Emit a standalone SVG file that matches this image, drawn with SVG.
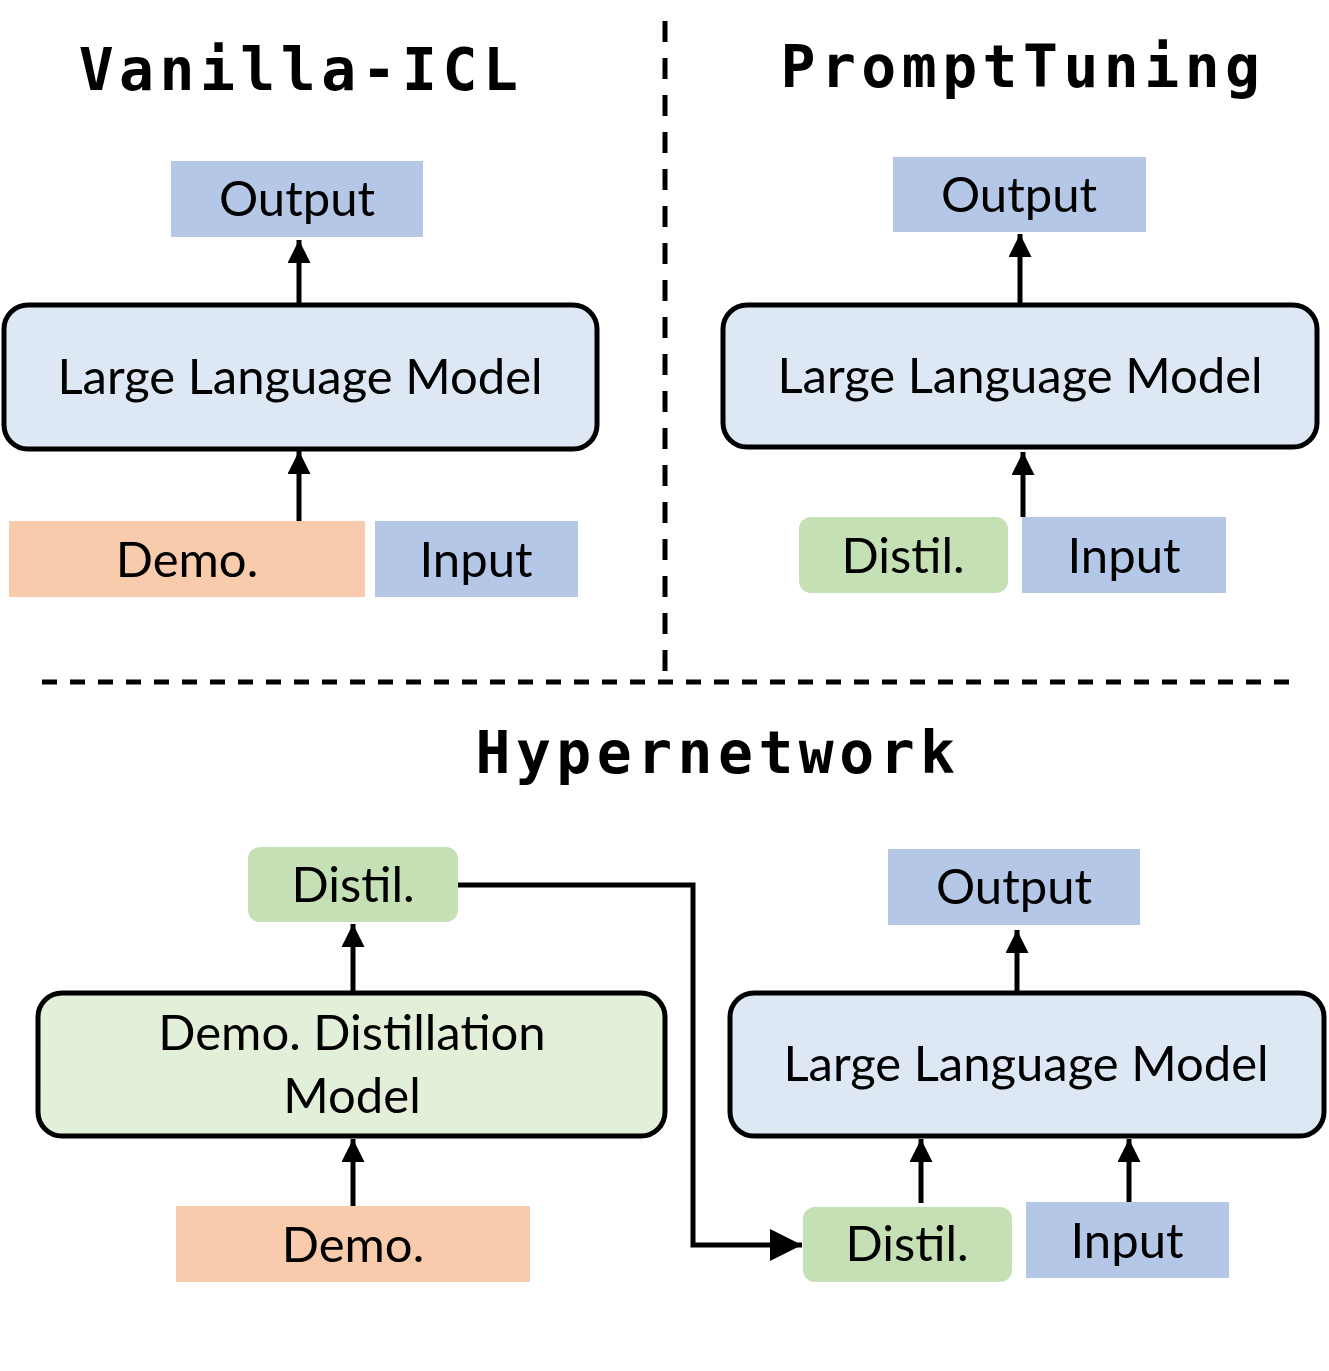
<svg xmlns="http://www.w3.org/2000/svg" width="1329" height="1371" viewBox="0 0 1329 1371">
<style>
.title{font-family:"DejaVu Sans Mono",monospace;font-weight:bold;font-size:58px;letter-spacing:5.5px;text-anchor:middle;fill:#000}
.lbl{font-family:Lato,"Liberation Sans",sans-serif;font-size:49px;text-anchor:middle;fill:#000}
.blue{fill:#b4c7e7}
.orange{fill:#f8cbad}
.green{fill:#c5e0b4}
.llm{fill:#dee8f5;stroke:#000;stroke-width:5}
.dm{fill:#e2efd9;stroke:#000;stroke-width:5}
.conn{stroke:#000;stroke-width:5;fill:none}
.dash{stroke:#000;stroke-width:5;stroke-dasharray:15 13;fill:none}
.vdash{stroke:#000;stroke-width:5;stroke-dasharray:21 16;fill:none}
</style>
<defs>
<marker id="ah" viewBox="0 0 10 10" refX="10" refY="5" markerWidth="4.6" markerHeight="4.6" markerUnits="strokeWidth" orient="auto">
<path d="M0,0 L10,5 L0,10 Z" fill="#000"/>
</marker>
<marker id="ahb" viewBox="0 0 10 10" refX="10" refY="5" markerWidth="6.4" markerHeight="6.4" markerUnits="strokeWidth" orient="auto">
<path d="M0,0 L10,5 L0,10 Z" fill="#000"/>
</marker>
</defs>
<rect width="1329" height="1371" fill="#fff"/>

<g id="separators">
<line class="vdash" x1="665" y1="21" x2="665" y2="675"/>
<line class="dash" x1="42" y1="682" x2="1295" y2="682"/>
</g>

<g id="titles">
<text id="t-vanilla" class="title" x="301" y="90">Vanilla-ICL</text>
<text id="t-prompt" class="title" x="1023" y="87">PromptTuning</text>
<text id="t-hyper" class="title" x="718" y="773">Hypernetwork</text>
</g>

<g id="connectors">
<line class="conn" x1="299" y1="305" x2="299" y2="240" marker-end="url(#ah)"/>
<line class="conn" x1="299" y1="521" x2="299" y2="451" marker-end="url(#ah)"/>
<line class="conn" x1="1020" y1="305" x2="1020" y2="234" marker-end="url(#ah)"/>
<line class="conn" x1="1023" y1="517" x2="1023" y2="452" marker-end="url(#ah)"/>
<line class="conn" x1="353" y1="993" x2="353" y2="924" marker-end="url(#ah)"/>
<line class="conn" x1="353" y1="1206" x2="353" y2="1139" marker-end="url(#ah)"/>
<line class="conn" x1="1017" y1="993" x2="1017" y2="930" marker-end="url(#ah)"/>
<line class="conn" x1="921" y1="1203" x2="921" y2="1139" marker-end="url(#ah)"/>
<line class="conn" x1="1129" y1="1202" x2="1129" y2="1139" marker-end="url(#ah)"/>
<polyline class="conn" points="458,885 693,885 693,1245 802,1245" marker-end="url(#ahb)"/>
</g>

<g id="v-output"><rect class="blue" x="171" y="161" width="252" height="76"/><text class="lbl" x="297" y="216">Output</text></g>
<g id="v-llm"><rect class="llm" x="4" y="305" width="593" height="144" rx="24"/><text class="lbl" x="300" y="394">Large Language Model</text></g>
<g id="v-demo"><rect class="orange" x="9" y="521" width="356" height="76"/><text class="lbl" x="187" y="577">Demo.</text></g>
<g id="v-input"><rect class="blue" x="375" y="521" width="203" height="76"/><text class="lbl" x="476" y="577">Input</text></g>

<g id="p-output"><rect class="blue" x="893" y="157" width="253" height="75"/><text class="lbl" x="1019" y="212">Output</text></g>
<g id="p-llm"><rect class="llm" x="723" y="305" width="594" height="142" rx="24"/><text class="lbl" x="1020" y="393">Large Language Model</text></g>
<g id="p-distil"><rect class="green" x="799" y="517" width="209" height="76" rx="12"/><text class="lbl" x="903" y="573">Distil.</text></g>
<g id="p-input"><rect class="blue" x="1022" y="517" width="204" height="76"/><text class="lbl" x="1124" y="573">Input</text></g>

<g id="h-distil-top"><rect class="green" x="248" y="847" width="210" height="75" rx="12"/><text class="lbl" x="353" y="902">Distil.</text></g>
<g id="h-ddm"><rect class="dm" x="38" y="993" width="627" height="143" rx="24"/><text class="lbl" x="352" y="1050">Demo. Distillation</text><text class="lbl" x="352" y="1113">Model</text></g>
<g id="h-demo"><rect class="orange" x="176" y="1206" width="354" height="76"/><text class="lbl" x="353" y="1262">Demo.</text></g>
<g id="h-output"><rect class="blue" x="888" y="849" width="252" height="76"/><text class="lbl" x="1014" y="904">Output</text></g>
<g id="h-llm"><rect class="llm" x="730" y="993" width="594" height="143" rx="24"/><text class="lbl" x="1026" y="1081">Large Language Model</text></g>
<g id="h-distil"><rect class="green" x="803" y="1207" width="209" height="75" rx="12"/><text class="lbl" x="907" y="1261">Distil.</text></g>
<g id="h-input"><rect class="blue" x="1026" y="1202" width="203" height="76"/><text class="lbl" x="1127" y="1258">Input</text></g>
</svg>
